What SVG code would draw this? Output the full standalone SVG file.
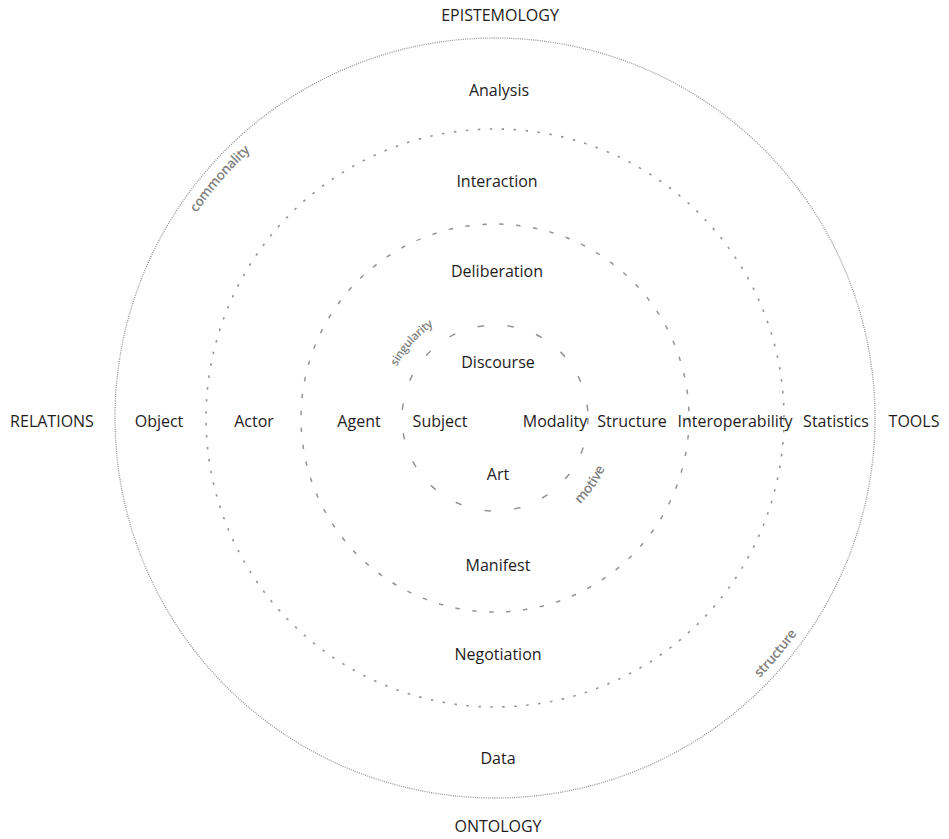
<svg xmlns="http://www.w3.org/2000/svg" width="949" height="839" viewBox="0 0 949 839">
  <style>
    .ring { fill: none; stroke: #949494; }
    .lbl { font-family: "Open Sans", "Liberation Sans", sans-serif; font-size: 16px; fill: #1f1c1d; text-anchor: middle; }
    .arc { font-family: "Open Sans", "Liberation Sans", sans-serif; fill: #7f7f7f; font-weight: 600; letter-spacing: -0.3px; }
  </style>
  <defs>
    <path id="p-commonality" d="M139.7,348.9 A361,361 0 0 1 377.1,75.7"/>
    <path id="p-singularity" d="M385.7,398.7 A111,111 0 0 1 464.4,311.3"/>
    <path id="p-motive" d="M546.1,527.7 A121,121 0 0 0 615.5,428.6"/>
    <path id="p-structure" d="M680.5,739.3 A371,371 0 0 0 843.6,544.9"/>
  </defs>
  <rect width="949" height="839" fill="#ffffff"/>

  <!-- concentric rings -->
  <g id="rings">
    <circle class="ring" cx="495" cy="418" r="380" stroke-width="1.3" stroke-dasharray="1 1.2"/>
    <circle class="ring" cx="495" cy="418" r="289" stroke-width="1.6" stroke-dasharray="2.5 9.5"/>
    <circle class="ring" cx="495" cy="418" r="194" stroke-width="1.5" stroke-dasharray="4.5 12.5"/>
    <circle class="ring" cx="495" cy="418" r="93" stroke-width="1.5" stroke-dasharray="6.5 23.5"/>
  </g>

  <!-- axis labels -->
  <g id="axis-top"><text class="lbl" x="500" y="21">EPISTEMOLOGY</text></g>
  <g id="axis-bottom"><text class="lbl" x="498" y="832">ONTOLOGY</text></g>
  <g id="axis-left"><text class="lbl" x="52" y="427">RELATIONS</text></g>
  <g id="axis-right"><text class="lbl" x="914" y="427">TOOLS</text></g>

  <!-- vertical column -->
  <g id="n-analysis"><text class="lbl" x="499" y="96">Analysis</text></g>
  <g id="n-interaction"><text class="lbl" x="497" y="187">Interaction</text></g>
  <g id="n-deliberation"><text class="lbl" x="497" y="277">Deliberation</text></g>
  <g id="n-discourse"><text class="lbl" x="498" y="368">Discourse</text></g>
  <g id="n-art"><text class="lbl" x="498" y="480">Art</text></g>
  <g id="n-manifest"><text class="lbl" x="498" y="571">Manifest</text></g>
  <g id="n-negotiation"><text class="lbl" x="498" y="660">Negotiation</text></g>
  <g id="n-data"><text class="lbl" x="498" y="764">Data</text></g>

  <!-- horizontal row -->
  <g id="n-object"><text class="lbl" x="159" y="427">Object</text></g>
  <g id="n-actor"><text class="lbl" x="254" y="427">Actor</text></g>
  <g id="n-agent"><text class="lbl" x="359" y="427">Agent</text></g>
  <g id="n-subject"><text class="lbl" x="440" y="427">Subject</text></g>
  <g id="n-modality"><text class="lbl" x="555" y="427">Modality</text></g>
  <g id="n-structure"><text class="lbl" x="632" y="427">Structure</text></g>
  <g id="n-interoperability"><text class="lbl" x="735" y="427">Interoperability</text></g>
  <g id="n-statistics"><text class="lbl" x="836" y="427">Statistics</text></g>

  <!-- curved ring annotations -->
  <g id="arc-labels">
    <text class="arc" font-size="13.5"><textPath href="#p-commonality" startOffset="50%" text-anchor="middle">commonality</textPath></text>
    <text class="arc" font-size="11.5"><textPath href="#p-singularity" startOffset="50%" text-anchor="middle">singularity</textPath></text>
    <text class="arc" font-size="13.5"><textPath href="#p-motive" startOffset="50%" text-anchor="middle">motive</textPath></text>
    <text class="arc" font-size="13.5"><textPath href="#p-structure" startOffset="50%" text-anchor="middle">structure</textPath></text>
  </g>
</svg>
